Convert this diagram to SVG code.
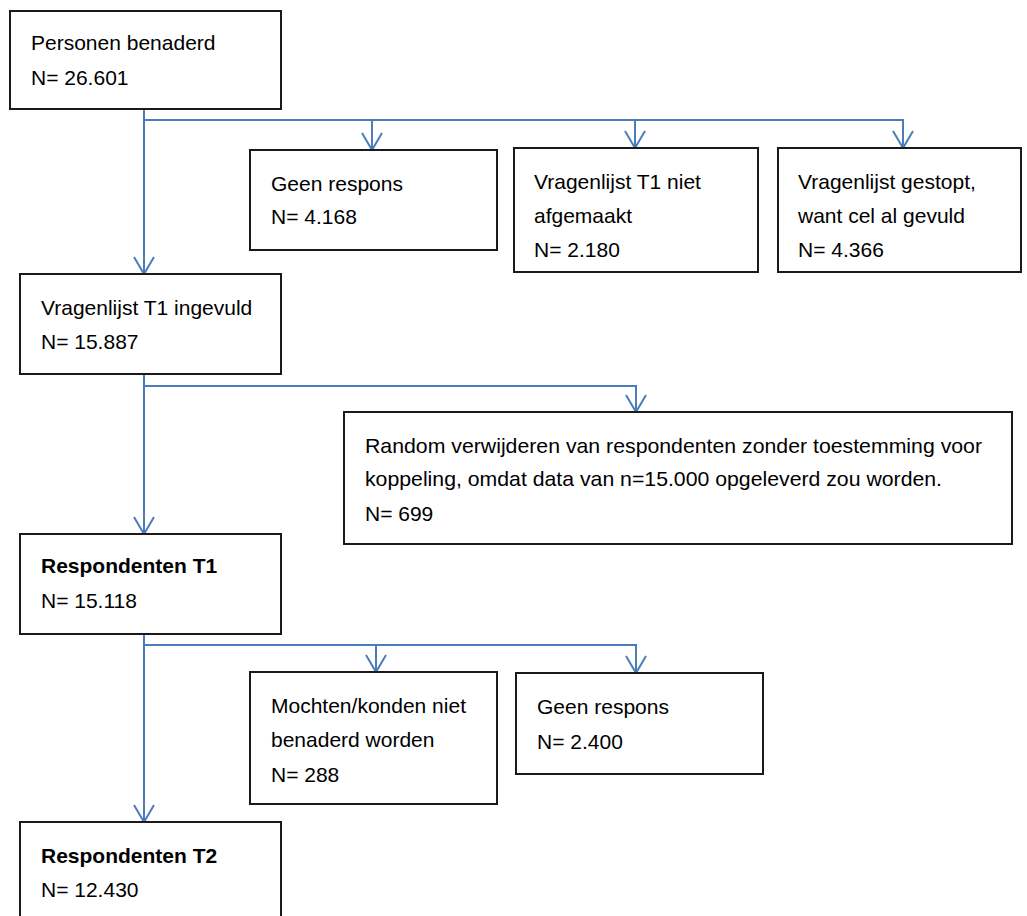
<svg xmlns="http://www.w3.org/2000/svg" width="1027" height="916" viewBox="0 0 1027 916">
<style>
.box{fill:#fff;stroke:#1a1a1a;stroke-width:2}
.t{font-family:"Liberation Sans",Arial,sans-serif;font-size:21px;fill:#000}
.b{font-weight:bold}
.c{fill:none;stroke:#4a7ebb;stroke-width:2}
</style>
<defs>
<marker id="arr" viewBox="-19 -12 22 24" markerWidth="22" markerHeight="24" refX="0" refY="0" orient="auto" markerUnits="userSpaceOnUse" overflow="visible">
<path d="M-17,-10 L0,0 L-17,10" fill="none" stroke="#4a7ebb" stroke-width="2"/>
</marker>
</defs>
<rect width="1027" height="916" fill="#fff"/>
<g id="connectors">
<path class="c" d="M144,109 V274" marker-end="url(#arr)"/>
<path class="c" d="M144,120 H903"/>
<path class="c" d="M372,120 V150" marker-end="url(#arr)"/>
<path class="c" d="M635,120 V148" marker-end="url(#arr)"/>
<path class="c" d="M903,119 V148" marker-end="url(#arr)"/>
<path class="c" d="M144,374 V534" marker-end="url(#arr)"/>
<path class="c" d="M144,386 H636"/>
<path class="c" d="M636,385 V412" marker-end="url(#arr)"/>
<path class="c" d="M144,634 V822" marker-end="url(#arr)"/>
<path class="c" d="M144,645 H636"/>
<path class="c" d="M376,645 V672" marker-end="url(#arr)"/>
<path class="c" d="M636,644 V673" marker-end="url(#arr)"/>
</g>
<g id="n1">
<rect class="box" x="10" y="11" width="271" height="98"/>
<text class="t" x="31" y="50">Personen benaderd</text>
<text class="t" x="31" y="85">N= 26.601</text>
</g>
<g id="n2">
<rect class="box" x="250" y="150" width="247" height="100"/>
<text class="t" x="271" y="191">Geen respons</text>
<text class="t" x="271" y="224">N= 4.168</text>
</g>
<g id="n3">
<rect class="box" x="514" y="148" width="244" height="124"/>
<text class="t" x="534" y="189">Vragenlijst T1 niet</text>
<text class="t" x="534" y="223">afgemaakt</text>
<text class="t" x="534" y="257">N= 2.180</text>
</g>
<g id="n4">
<rect class="box" x="778" y="148" width="243" height="124"/>
<text class="t" x="798" y="189">Vragenlijst gestopt,</text>
<text class="t" x="798" y="223">want cel al gevuld</text>
<text class="t" x="798" y="257">N= 4.366</text>
</g>
<g id="n5">
<rect class="box" x="20" y="274" width="261" height="100"/>
<text class="t" x="41" y="315">Vragenlijst T1 ingevuld</text>
<text class="t" x="41" y="349">N= 15.887</text>
</g>
<g id="n6">
<rect class="box" x="344" y="412" width="668" height="132"/>
<text class="t" x="365" y="453" textLength="617" lengthAdjust="spacingAndGlyphs">Random verwijderen van respondenten zonder toestemming voor</text>
<text class="t" x="365" y="486" textLength="577" lengthAdjust="spacingAndGlyphs">koppeling, omdat data van n=15.000 opgeleverd zou worden.</text>
<text class="t" x="365" y="521">N= 699</text>
</g>
<g id="n7">
<rect class="box" x="20" y="534" width="261" height="100"/>
<text class="t b" x="41" y="573">Respondenten T1</text>
<text class="t" x="41" y="608">N= 15.118</text>
</g>
<g id="n8">
<rect class="box" x="250" y="672" width="247" height="132"/>
<text class="t" x="271" y="713">Mochten/konden niet</text>
<text class="t" x="271" y="747">benaderd worden</text>
<text class="t" x="271" y="782">N= 288</text>
</g>
<g id="n9">
<rect class="box" x="516" y="673" width="247" height="101"/>
<text class="t" x="537" y="714">Geen respons</text>
<text class="t" x="537" y="749">N= 2.400</text>
</g>
<g id="n10">
<rect class="box" x="20" y="822" width="261" height="100"/>
<text class="t b" x="41" y="863">Respondenten T2</text>
<text class="t" x="41" y="897">N= 12.430</text>
</g>
</svg>
